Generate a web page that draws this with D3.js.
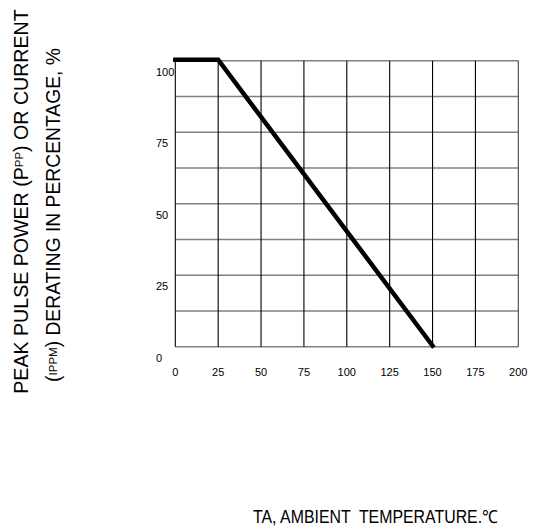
<!DOCTYPE html>
<html>
<head>
<meta charset="utf-8">
<script src="https://cdn.jsdelivr.net/npm/d3@7"></script>
<style>
html,body{margin:0;padding:0;background:#fff;}
text{font-family:"Liberation Sans",Arial,sans-serif;fill:#000;}
</style>
</head>
<body>
<svg id="chart" width="539" height="531"></svg>
<script>
// Data
const xTicks = [0, 25, 50, 75, 100, 125, 150, 175, 200];
const yTicks = [0, 25, 50, 75, 100];
const yGrid = [0, 12.5, 25, 37.5, 50, 62.5, 75, 87.5, 100];
const temperature = [0, 25, 150];
const derating = [100, 100, 0];

const svg = d3.select("#chart");
const x = d3.scaleLinear().domain([0, 200]).range([175.3, 518.3]);
const y = d3.scaleLinear().domain([0, 100]).range([346.7, 60.7]);

// horizontal grid (gray)
svg.append("g").selectAll("line").data(yGrid).join("line")
  .attr("x1", x(0)).attr("x2", x(200))
  .attr("y1", d => y(d)).attr("y2", d => y(d))
  .attr("stroke", "#808080").attr("stroke-width", 1.6);

// vertical grid (black)
svg.append("g").selectAll("line").data(xTicks).join("line")
  .attr("x1", d => x(d)).attr("x2", d => x(d))
  .attr("y1", y(0)).attr("y2", y(100))
  .attr("stroke", d => d === 200 ? "#444" : "#000").attr("stroke-width", 1.1);

// y tick labels
svg.append("g").selectAll("text").data(yTicks).join("text")
  .attr("x", 156).attr("y", d => y(d) + 15)
  .attr("font-size", 11).text(d => d);

// x tick labels
svg.append("g").selectAll("text").data(xTicks).join("text")
  .attr("x", d => x(d)).attr("y", 375.5)
  .attr("text-anchor", "middle").attr("font-size", 11).text(d => d);

// derating curve
const line = d3.line().x((d, i) => x(temperature[i])).y(d => y(d) - 1);
svg.append("path").datum(derating)
  .attr("d", line).attr("fill", "none")
  .attr("stroke", "#000").attr("stroke-width", 4.5)
  .attr("stroke-linecap", "square").attr("stroke-linejoin", "miter");

// y title line 1
const t1 = svg.append("text")
  .attr("transform", "translate(28,201.5) rotate(-90)")
  .attr("text-anchor", "middle").attr("font-size", 19.6);
t1.append("tspan").text("PEAK PULSE POWER (P");
t1.append("tspan").attr("font-size", 11.5).attr("dy", -5).text("PP");
t1.append("tspan").attr("dy", 5).text(") OR CURRENT");

// y title line 2
const t2 = svg.append("text")
  .attr("transform", "translate(60,215) rotate(-90)")
  .attr("text-anchor", "middle").attr("font-size", 19.3);
t2.append("tspan").text("(");
t2.append("tspan").attr("font-size", 11.5).attr("dy", -3).text("IPPM");
t2.append("tspan").attr("dy", 3).text(") DERATING IN PERCENTAGE, %");

// x title
svg.append("text")
  .attr("x", 253).attr("y", 523)
  .attr("font-size", 18)
  .attr("textLength", 245)
  .attr("lengthAdjust", "spacingAndGlyphs")
  .attr("xml:space", "preserve")
  .style("white-space", "pre")
  .text("TA, AMBIENT  TEMPERATURE.\u2103");
</script>
</body>
</html>
